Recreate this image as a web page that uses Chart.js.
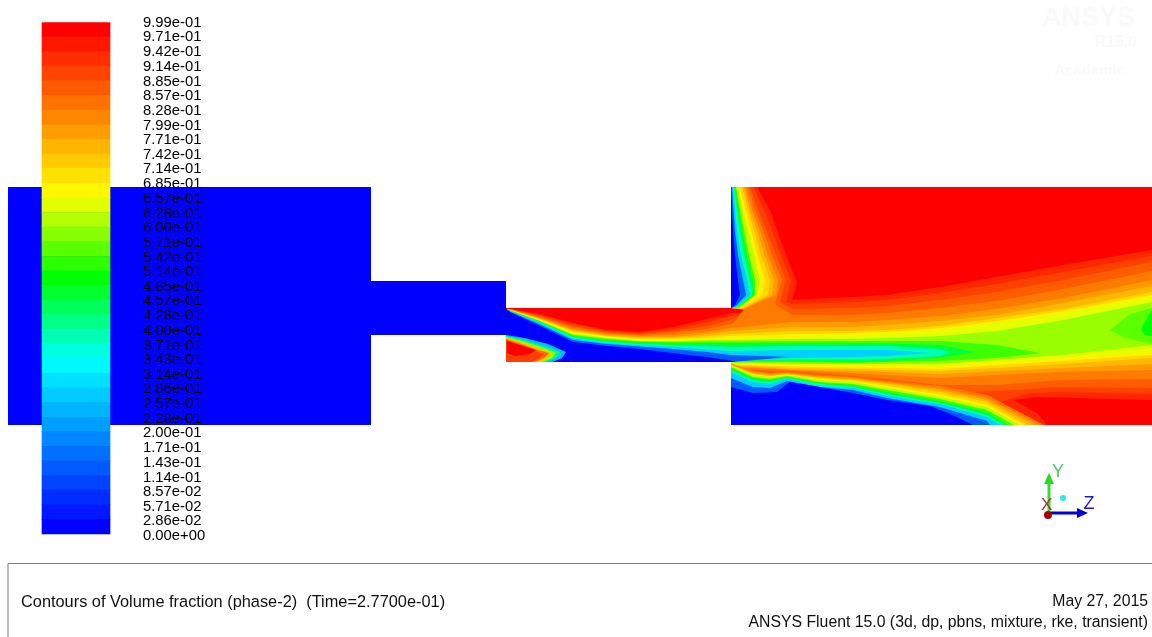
<!DOCTYPE html>
<html><head><meta charset="utf-8">
<style>html,body{margin:0;padding:0;background:#fff}canvas{display:block;filter:blur(0.45px)}</style>
<script src="https://cdn.jsdelivr.net/npm/chart.js@4"></script>
</head><body><canvas id="c" width="1152" height="637"></canvas>
<script>
// colour-bar levels
const legendLevels=[0.999,0.971,0.942,0.914,0.885,0.857,0.828,0.799,0.771,0.742,0.714,0.685,0.657,0.628,0.600,0.571,0.542,0.514,0.485,0.457,0.428,0.400,0.371,0.343,0.314,0.286,0.257,0.228,0.200,0.171,0.143,0.114,0.0857,0.0571,0.0286,0];
// geometry of the duct (x, y of the picture plane)
const inletBlock=[[8,187],[371,187],[371,425],[8,425]];
const neckBlock=[[371,281],[506,281],[506,335],[371,335]];
const channelBlock=[[506,308],[731,308],[731,187],[1152,187],[1152,425],[731,425],[731,362],[506,362]];
// upper edge of the jet, isolines by level
const upperX=[1152,1063,997,940,887,853,792,731,707,673,640,607,573,540,510];
const upper97=[250,265,277,287,295,297,300];
const upper97Wall=[[797,283],[783,247],[770,210],[757,187],[731,187],[731,308],[738,308],[745,311],[738,313]];
const upper97Channel=[313,319,327,332,330,323,314,309];
const upper97Lower=[[731,425],[1047,425],[1037,413],[1013,400],[1037,397],[1152,400]];
const upper93=[256,272,284,293,300,302,304];
const upper93Wall=[[786,302],[791,281],[779,250],[768,220],[753.5,187],[731,187],[731,308],[741,308.5],[745,310.5],[738,314.5]];
const upper93Channel=[316,322,329,333,331,324,315,309];
const upper93Lower=[[731,425],[990,425],[1000,402],[1030,393],[1063,392],[1152,394]];
const upper90=[262,280,292,300,306,308,309];
const upper90Wall=[[780,302],[786,280],[776,255],[766,230],[758,210],[750,187],[731,187],[731,308],[745,310],[738,316]];
const upper90Channel=[320,326,331,334,332,326,316,309];
const upper90Lower=[[731,425],[940,425],[960,400],[977,392],[1063,387],[1152,388]];
const upper86=[271,289,301,308,313,315,315];
const upper86Wall=[[775,304],[782,280],[772,255],[763,230],[755,210],[748,187],[731,187],[731,308],[744,309.5],[736,320]];
const upper86Channel=[324,329,333,335,333,327,317,309];
const upper82=[280,298,309,316,320,322,322,328,332,335,336,334,329,318,309.5];
const upper78=[286,303,315,321,325,327,327,331,334,337,337,335,330,318.5,309.8];
const upper74=[292,309,318,326,330,331,331,334,336,338,338,336,331,319,310];
const upper70=[295,311,321,328,332,333,334,336,338,339,339,336.5,332,319.5,310];
const upper67=[297,313,323,331,334,335,337,339,339,340,340,337,333,320,310];
const upper63=[302,320,331,336,338,339,339,340,340,341,341,338,334,321,310.3];
const upper57=[[1040,353],[997,345],[940,341],[887,341],[853,341],[792,341],[731,341.5],[707,341.5],[673,342],[640,341.5],[607,339],[573,335],[540,321],[510,310.4]];
const upper50=[[975,352],[940,345],[887,343.5],[853,343],[792,343],[731,343],[707,343],[673,343],[640,342],[607,340],[573,336],[540,321.5],[510,310.5]];
const upper42=[[950,352],[940,349],[887,346],[853,346],[792,346],[731,347],[707,346],[673,345],[640,344],[607,341.5],[573,337],[540,322],[510,310.7]];
const upper33=[[930,353],[887,350],[853,350],[792,350],[731,351],[707,349.5],[673,347],[640,345.5],[607,343],[573,338.5],[540,323],[510,311]];
const upper20=[[790,357],[731,355],[707,352],[673,349],[640,346.5],[607,344],[573,340],[540,324.5],[510,311.5]];
const upper03=[[736,362],[731,360.5],[707,357],[673,353],[640,349],[607,346],[573,342],[540,326],[510,312]];
// lower edge of the jet
const lowerX=[731,753,792,853,887,940,997,1063,1152];
const lower86=[371,370,371,376,379,385,385,380,379];
const lower82=[369,368,370,373,375,378,375,372,370];
const lower78=[367.5,367,369.5,371,372,374,371,368,364];
const lower74=[366,366,368,369,370,371,368,364,358];
const lower70=[365,365,366.5,367.5,368,369,365,361,355];
const lower67=[364,364,365,366,366,367,362,358,352];
const lower63=[363,363,364,364,364,364,360,355,345];
const lower57=[362,362,362,363,362,361,358];
const lower50=[362,361,361,362,361,358];
const lower42=[362,360,359.5,359.5,359,356];
const lower33=[[731,361.5],[792,358],[853,357],[887,356]];
// bottom wall zone
const zoneX=[731,753,770,787,820,853,887,940,987];
const zone86=[363.5,371,373,372,375,377,381,386,395];
const zone82=[364,372,374,373,376,378,382,388,398];
const zone78=[364.5,373,375,373.5,377,379,383,390,400];
const zone74=[365,374,376,374,378,380,384,392,402];
const zone70=[365.5,374.5,376.5,374.5,379,381,386,394.5,404.5];
const zone67=[366,375,377,375,380,382,388,397,407];
const zone57=[367,377,379,376,382,384,390,399,410];
const zone50=[368,378,380,377,383,385,392,401,412];
const zone42=[370,380,382,378,384,387,394,403,415];
const zone33=[372,382,384,379,386,388,396,404,417];
const zone20=[378,387,388,381,387,390,398,407,421];
const zoneEnds=[1044,1040,1034,1028,1024,1020,1014,1008,1004,1000,990];
const zone03=[[731,387],[753,393],[777,392],[790,382],[820,387],[853,393],[887,400],[930,406],[957,417],[973,425]];
// wall stream at the top of the expansion
const wallY=[187,210,230,255,280,295];
const wall82=[746,752,760,768,778,776];
const wall78=[744,750,757,764.5,774,772];
const wall74=[742,748,754,761,770,768];
const wall70=[740,745.5,751,757.5,765,762.5];
const wall67=[738,743,748,754,760,757];
const wall57=[736,740,744,749,755,755];
const wall50=[735,739,742,747,753,754];
const wall42=[734,737,740,744,750,752];
const wall33=[733,735,737,741,747,750];
const wall20=[732,733.5,735,738,743,746];
const wall03=[731.5,732,733,735,738,740];
const wallTips=[[744,309],[743,309],[742,308.5],[741,308],[740,308],[739,307.5],[738,307],[737.5,306.5],[737,306],[736,306],[735,305]];
// recirculation pocket in the channel
const pocket03=[[506,335],[525,338],[548,344],[566,352],[562,358],[552,362],[506,362]];
const pocket33=[[506,336],[525,340],[546,347],[560,352],[556,358],[546,362],[506,362]];
const pocket50=[[506,337],[524,341.5],[544,348],[556,353],[552,358],[542,362],[506,362]];
const pocket67=[[506,338],[523,343],[541,349],[552,353],[548,358],[539,362],[506,362]];
const pocket82=[[506,339],[522,344],[538,350],[549,353],[544,358],[535,362],[506,362]];
const pocket90=[[506,340],[520,345],[534,351],[544,354],[540,358],[531,362],[506,362]];
const pocket97=[[507,341],[520,345],[536,350],[530,354],[515,356],[507,353]];
// spot at the outlet
const outlet57=[[1152,308],[1130,314],[1110,330],[1125,338],[1152,344]];
const outlet50=[[1152,310],[1143,325],[1141,330],[1145,335],[1152,336]];
// triad
const triadGreenShaft=[[1049,513],[1049,483]];
const triadGreenHead=[[1049,473],[1054,484],[1044,484]];
const triadBlueShaft=[[1049,513],[1078,513]];
const triadBlueHead=[[1088,513],[1077,508],[1077,518]];
const triadOrigin=[[1048,515]];
const triadTarget=[[1063,498]];
const frameLine=[[8,637],[8,563.5],[1152,563.5]];
// texts
const footerLeft='Contours of Volume fraction (phase-2)  (Time=2.7700e-01)';
const footerDate='May 27, 2015';
const footerSolver='ANSYS Fluent 15.0 (3d, dp, pbns, mixture, rke, transient)';

function c(v){
  const stops=[[0,0,0,255],[1/3,0,255,255],[.5,0,255,0],[2/3,255,255,0],[1,255,0,0]];
  for(let i=1;i<stops.length;i++){ if(v<=stops[i][0]){const a=stops[i-1],b=stops[i],t=(v-a[0])/(b[0]-a[0]);
    return `rgb(${Math.round(a[1]+t*(b[1]-a[1]))},${Math.round(a[2]+t*(b[2]-a[2]))},${Math.round(a[3]+t*(b[3]-a[3]))})`;}}
  return 'rgb(255,0,0)';
}
const zip=(xs,ys)=>ys.map((y,i)=>[xs[i],y]);
const wallPts=(xs)=>xs.map((x,i)=>[x,wallY[i]]);
const chanTail=[[506,309],[506,362],[731,362]];
const polys=[];
const add=(pts,v)=>polys.push({pts,col:typeof v==='number'?c(v):v});

add(inletBlock,0); add(neckBlock,0); add(channelBlock,1);
add([...zip(upperX,upper97),...upper97Wall,...zip(upperX.slice(7),upper97Channel),...chanTail,...upper97Lower],.95);
add([...zip(upperX,upper93),...upper93Wall,...zip(upperX.slice(7),upper93Channel),...chanTail,...upper93Lower],.915);
add([...zip(upperX,upper90),...upper90Wall,...zip(upperX.slice(7),upper90Channel),...chanTail,...upper90Lower],.88);
add([...zip(upperX,upper86),...upper86Wall,...zip(upperX.slice(7),upper86Channel),...chanTail,...zip(lowerX,lower86)],.84);
add([...zip(upperX,upper82),...chanTail,...zip(lowerX,lower82)],.80);
add([...zip(upperX,upper78),...chanTail,...zip(lowerX,lower78)],.76);
add([...zip(upperX,upper74),...chanTail,...zip(lowerX,lower74)],.72);
add([...zip(upperX,upper70),...chanTail,...zip(lowerX,lower70)],.685);
add([...zip(upperX,upper67),...chanTail,...zip(lowerX,lower67)],.65);
add([...zip(upperX,upper63),...chanTail,...zip(lowerX,lower63)],.60);
add([...upper57,...chanTail,...zip(lowerX,lower57)],.54);
add([...upper50,...chanTail,...zip(lowerX,lower50)],.46);
add([...upper42,...chanTail,...zip(lowerX,lower42)],.38);
add([...upper33,...chanTail,...lower33],.27);
add([...upper20,...chanTail],.12);
add([...upper03,...chanTail],0);
[[zone86,.84],[zone82,.80],[zone78,.76],[zone74,.72],[zone70,.685],[zone67,.62],[zone57,.54],[zone50,.46],[zone42,.38],[zone33,.27],[zone20,.12]].forEach(([z,v],i)=>{
  add([...zip(zoneX,z),[zoneEnds[i],425],[731,425]],v);
});
add([...zone03,[731,425]],0);
[[wall82,.80],[wall78,.76],[wall74,.72],[wall70,.685],[wall67,.62],[wall57,.54],[wall50,.46],[wall42,.38],[wall33,.27],[wall20,.12],[wall03,0]].forEach(([w,v],i)=>{
  add([[731,187],...wallPts(w),wallTips[i],[731,308]],v);
});
[[pocket03,.25],[pocket33,.42],[pocket50,.6],[pocket67,.75],[pocket82,.86],[pocket90,.92],[pocket97,1]].forEach(([p,v])=>add(p,v));
add(outlet57,.56); add(outlet50,.5);

const toXY=p=>p.map(([x,y])=>({x,y}));
const N=polys.length+10;
const datasets=polys.map((p,i)=>({type:'scatter',data:toXY(p.pts),showLine:true,fill:'shape',backgroundColor:p.col,borderWidth:0,pointRadius:0,order:N-i}));
const lineDs=(pts,col,w,ord)=>({type:'scatter',data:toXY(pts),showLine:true,fill:false,borderColor:col,borderWidth:w,pointRadius:0,order:ord});
const headDs=(pts,col,ord)=>({type:'scatter',data:toXY(pts),showLine:true,fill:'shape',backgroundColor:col,borderWidth:0,pointRadius:0,order:ord});
// colour bar: one floating bar per band
const bands=legendLevels.slice(0,-1).map((hi,i)=>({x:76,y:[legendLevels[i+1],hi]}));
const bandColours=bands.map((_,i)=>c((34-i)/34));
datasets.push({type:'bar',data:bands,xAxisID:'x',yAxisID:'yFill',backgroundColor:bandColours,barThickness:68,borderWidth:0,order:3});
datasets.push(lineDs(frameLine,'#7f7f7f',1,2));
datasets.push(lineDs(triadGreenShaft,'#33dd33',3,2));
datasets.push(headDs(triadGreenHead,'#22dd22',2));
datasets.push(lineDs(triadBlueShaft,'#0000e0',3,2));
datasets.push(headDs(triadBlueHead,'#0000e0',2));
datasets.push({type:'scatter',data:toXY(triadOrigin),pointRadius:4,pointBackgroundColor:'#aa0000',pointBorderWidth:0,order:1});
datasets.push({type:'scatter',data:toXY(triadTarget),pointRadius:3,pointBackgroundColor:'#22eeee',pointBorderWidth:0,order:1});

const textPlugin={id:'texts',afterDraw(ch){
  const g=ch.ctx;g.save();g.textBaseline='middle';
  const T=(s,x,y,font,col,al)=>{g.font=font;g.fillStyle=col;g.textAlign=al||'left';g.fillText(s,x,y);};
  const sx=ch.scales.x,sy=ch.scales.y;
  const F='"Liberation Sans"';
  T(footerLeft,sx.getPixelForValue(21),sy.getPixelForValue(602),`16.35px ${F}`,'#111');
  T(footerDate,sx.getPixelForValue(1148),sy.getPixelForValue(602),`15.8px ${F}`,'#111','right');
  T(footerSolver,sx.getPixelForValue(1148),sy.getPixelForValue(623),`15.8px ${F}`,'#111','right');
  T('Y',sx.getPixelForValue(1052),sy.getPixelForValue(472),`18px ${F}`,'#44cc66');
  T('Z',sx.getPixelForValue(1083.5),sy.getPixelForValue(504),`18px ${F}`,'#1a1acc');
  T('X',sx.getPixelForValue(1041),sy.getPixelForValue(505),`17px ${F}`,'#b03030');
  T('ANSYS',sx.getPixelForValue(1135),sy.getPixelForValue(19),`bold 27px ${F}`,'#f9f9f9','right');
  T('R15.0',sx.getPixelForValue(1137),sy.getPixelForValue(43),`bold 16px ${F}`,'#f9f9f9','right');
  T('Academic',sx.getPixelForValue(1125),sy.getPixelForValue(71),`bold 15px ${F}`,'#f9f9f9','right');
  g.restore();
}};

new Chart(document.getElementById('c'),{
  type:'scatter',
  data:{datasets},
  plugins:[textPlugin],
  options:{
    responsive:false,animation:false,
    layout:{padding:0,autoPadding:false},
    plugins:{legend:{display:false},tooltip:{enabled:false},title:{display:false}},
    scales:{
      x:{type:'linear',min:0,max:1152,display:false,offset:false,grid:{offset:false}},
      y:{type:'linear',min:0,max:637,reverse:true,display:false,offset:false},
      yFill:{type:'linear',position:'left',min:(534-637)/512,max:534/512,display:false,offset:false},
      yBar:{type:'linear',position:'left',min:(536-637)/513.5,max:536/513.5,offset:false,
        grid:{display:false},border:{display:false},
        afterBuildTicks:s=>{s.ticks=legendLevels.map(v=>({value:v}));},
        afterFit:s=>{s.width=0;s.paddingTop=0;s.paddingBottom=0;s.paddingLeft=0;s.paddingRight=0;},
        ticks:{z:1,mirror:true,padding:143,autoSkip:false,color:'#000',
          font:{family:'"Liberation Sans"',size:14.8},
          maxRotation:0,minRotation:0,
          callback:v=>v.toExponential(2).replace(/e([+-])(\d)$/,'e$10$2')}}
    }
  }
});
</script></body></html>
